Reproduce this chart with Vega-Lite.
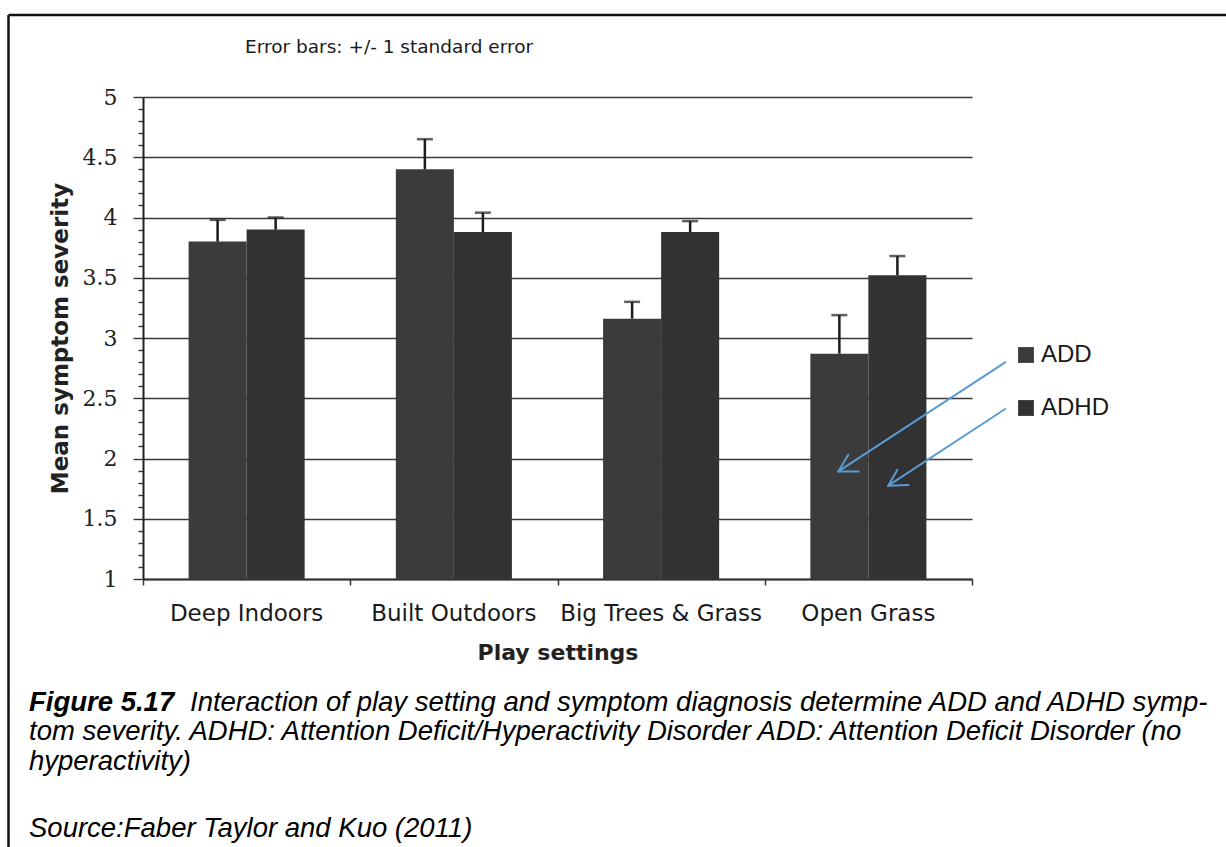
{
  "$schema": "https://vega.github.io/schema/vega-lite/v6.json",
  "width": 829,
  "height": 482,
  "autosize": {"type": "none"},
  "padding": {"left": 143, "top": 97, "right": 254, "bottom": 268},
  "background": "white",
  "datasets": {
    "severity": [
      {"setting": "Deep Indoors", "group": "ADD", "mean": 3.80, "lo": 3.62, "hi": 3.98},
      {"setting": "Deep Indoors", "group": "ADHD", "mean": 3.90, "lo": 3.80, "hi": 4.00},
      {"setting": "Built Outdoors", "group": "ADD", "mean": 4.40, "lo": 4.15, "hi": 4.65},
      {"setting": "Built Outdoors", "group": "ADHD", "mean": 3.88, "lo": 3.72, "hi": 4.04},
      {"setting": "Big Trees & Grass", "group": "ADD", "mean": 3.16, "lo": 3.02, "hi": 3.30},
      {"setting": "Big Trees & Grass", "group": "ADHD", "mean": 3.88, "lo": 3.79, "hi": 3.97},
      {"setting": "Open Grass", "group": "ADD", "mean": 2.87, "lo": 2.55, "hi": 3.19},
      {"setting": "Open Grass", "group": "ADHD", "mean": 3.52, "lo": 3.36, "hi": 3.68}
    ],
    "arrows": [
      {"x": 4.160, "y": 2.7975, "x2": 3.3549, "y2": 1.8929},
      {"x": 3.3549, "y": 1.8929, "x2": 3.4032, "y2": 2.0315},
      {"x": 3.3549, "y": 1.8929, "x2": 3.4533, "y2": 1.8929},
      {"x": 4.160, "y": 2.4108, "x2": 3.5957, "y2": 1.7743},
      {"x": 3.5957, "y": 1.7743, "x2": 3.6401, "y2": 1.9071},
      {"x": 3.5957, "y": 1.7743, "x2": 3.6941, "y2": 1.7801}
    ],
    "frame": [
      {"x": -0.649, "y": 5.680, "x2": 5.4, "y2": 5.680},
      {"x": -0.649, "y": 5.680, "x2": -0.649, "y2": -1.4}
    ],
    "note": [
      {"text": "Error bars: +/- 1 standard error", "x": 0.4922, "y": 5.365}
    ],
    "captionBold": [
      {"text": "Figure 5.17", "x": -0.5501, "y": -0.0954}
    ],
    "caption": [
      {"text": "Interaction of play setting and symptom diagnosis determine ADD and ADHD symp-", "x": 0.2268, "y": -0.0954},
      {"text": "tom severity. ADHD: Attention Deficit/Hyperactivity Disorder ADD: Attention Deficit Disorder (no", "x": -0.5501, "y": -0.3402},
      {"text": "hyperactivity)", "x": -0.5501, "y": -0.5851},
      {"text": "Source:Faber Taylor and Kuo (2011)", "x": -0.5501, "y": -1.1411}
    ]
  },
  "resolve": {
    "scale": {"x": "independent"}
  },
  "layer": [
    {
      "data": {"name": "severity"},
      "encoding": {
        "x": {
          "field": "setting",
          "type": "nominal",
          "sort": ["Deep Indoors", "Built Outdoors", "Big Trees & Grass", "Open Grass"],
          "scale": {"paddingInner": 0.44, "paddingOuter": 0.22},
          "title": "Play settings",
          "axis": {
            "orient": "bottom",
            "domain": false,
            "ticks": false,
            "tickSize": 0,
            "grid": false,
            "labelAngle": 0,
            "labelLimit": 400,
            "labelFont": "DejaVu Sans",
            "labelFontSize": 23,
            "labelColor": "#1a1a1a",
            "labelPadding": 23,
            "titleFont": "DejaVu Sans",
            "titleFontSize": 22,
            "titleFontWeight": "bold",
            "titleColor": "#222222",
            "titlePadding": 17
          }
        },
        "xOffset": {
          "field": "group",
          "type": "nominal",
          "sort": ["ADD", "ADHD"],
          "scale": {"paddingInner": 0, "paddingOuter": 0}
        }
      },
      "layer": [
        {
          "mark": {"type": "bar", "stroke": null},
          "encoding": {
            "y": {
              "field": "mean",
              "type": "quantitative",
              "title": "Mean symptom severity",
              "scale": {"domain": [1, 5], "nice": false, "zero": false},
              "axis": {
                "orient": "left",
                "values": [1, 1.1, 1.2, 1.3, 1.4, 1.5, 1.6, 1.7, 1.8, 1.9, 2, 2.1, 2.2, 2.3, 2.4, 2.5, 2.6, 2.7, 2.8, 2.9, 3, 3.1, 3.2, 3.3, 3.4, 3.5, 3.6, 3.7, 3.8, 3.9, 4, 4.1, 4.2, 4.3, 4.4, 4.5, 4.6, 4.7, 4.8, 4.9, 5],
                "tickCount": 80,
                "labelExpr": "abs(datum.value * 2 - round(datum.value * 2)) < 0.001 ? format(datum.value, '~g') : ''",
                "grid": true,
                "gridColor": "#3a3a3a",
                "gridWidth": 1.5,
                "gridOpacity": {"condition": {"test": "abs(datum.value * 2 - round(datum.value * 2)) < 0.001", "value": 1}, "value": 0},
                "tickSize": {"condition": {"test": "abs(datum.value * 2 - round(datum.value * 2)) < 0.001", "value": 10}, "value": 5},
                "tickColor": "#333333",
                "tickWidth": 1.4,
                "domain": true,
                "domainColor": "#222222",
                "domainWidth": 2,
                "labelFont": "DejaVu Serif",
                "labelFontSize": 22,
                "labelColor": "#222222",
                "labelPadding": 16,
                "labelOverlap": false,
                "titleFont": "DejaVu Sans",
                "titleFontSize": 23,
                "titleFontWeight": "bold",
                "titleColor": "#222222",
                "titlePadding": 10
              }
            },
            "y2": {"datum": 1},
            "color": {
              "field": "group",
              "type": "nominal",
              "scale": {"domain": ["ADD", "ADHD"], "range": ["#3b3b3b", "#323232"]},
              "legend": {
                "orient": "none",
                "legendX": 871,
                "legendY": 246,
                "title": null,
                "padding": 0,
                "symbolType": "square",
                "symbolSize": 250,
                "symbolStrokeWidth": 0,
                "labelFont": "Liberation Sans",
                "labelFontSize": 24,
                "labelColor": "#1a1a1a",
                "labelOffset": 3,
                "rowPadding": 29
              }
            }
          }
        },
        {
          "mark": {"type": "rule", "color": "#1c1c1c", "strokeWidth": 2.5},
          "encoding": {
            "y": {"field": "mean", "type": "quantitative", "title": "Mean symptom severity"},
            "y2": {"field": "hi"}
          }
        },
        {
          "mark": {"type": "tick", "color": "#1c1c1c", "thickness": 2.5, "size": 16},
          "encoding": {
            "y": {"field": "hi", "type": "quantitative", "title": "Mean symptom severity"}
          }
        }
      ]
    },
    {
      "layer": [
        {
          "data": {"name": "arrows"},
          "mark": {"type": "rule", "color": "#5b9bd5", "strokeWidth": 2, "strokeCap": "round"},
          "encoding": {
            "x": {
              "field": "x",
              "type": "quantitative",
              "title": null,
              "scale": {"domain": [0, 4], "nice": false, "zero": false},
              "axis": {
                "orient": "bottom",
                "values": [0, 1, 2, 3, 4],
                "labels": false,
                "grid": false,
                "title": null,
                "tickSize": 6,
                "tickColor": "#333333",
                "tickWidth": 1.5,
                "domain": true,
                "domainColor": "#333333",
                "domainWidth": 2
              }
            },
            "y": {"field": "y", "type": "quantitative", "title": "Mean symptom severity"},
            "x2": {"field": "x2"},
            "y2": {"field": "y2"}
          }
        },
        {
          "data": {"name": "frame"},
          "mark": {"type": "rule", "color": "#111111", "strokeWidth": 2.5},
          "encoding": {
            "x": {"field": "x", "type": "quantitative", "title": null},
            "y": {"field": "y", "type": "quantitative", "title": "Mean symptom severity"},
            "x2": {"field": "x2"},
            "y2": {"field": "y2"}
          }
        },
        {
          "data": {"name": "note"},
          "mark": {"type": "text", "align": "left", "baseline": "alphabetic", "font": "DejaVu Sans", "fontSize": 18.5, "color": "#1a1a1a"},
          "encoding": {
            "x": {"field": "x", "type": "quantitative", "title": null},
            "y": {"field": "y", "type": "quantitative", "title": "Mean symptom severity"},
            "text": {"field": "text"}
          }
        },
        {
          "data": {"name": "captionBold"},
          "mark": {"type": "text", "align": "left", "baseline": "alphabetic", "font": "Liberation Sans", "fontSize": 27.5, "fontStyle": "italic", "fontWeight": "bold", "color": "#000000"},
          "encoding": {
            "x": {"field": "x", "type": "quantitative", "title": null},
            "y": {"field": "y", "type": "quantitative", "title": "Mean symptom severity"},
            "text": {"field": "text"}
          }
        },
        {
          "data": {"name": "caption"},
          "mark": {"type": "text", "align": "left", "baseline": "alphabetic", "font": "Liberation Sans", "fontSize": 27.5, "fontStyle": "italic", "color": "#000000"},
          "encoding": {
            "x": {"field": "x", "type": "quantitative", "title": null},
            "y": {"field": "y", "type": "quantitative", "title": "Mean symptom severity"},
            "text": {"field": "text"}
          }
        }
      ]
    }
  ],
  "config": {
    "view": {"stroke": null}
  }
}
